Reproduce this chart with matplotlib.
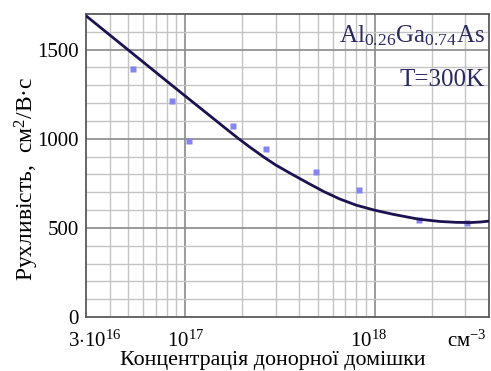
import numpy as np
import matplotlib
matplotlib.use("Agg")
import matplotlib.pyplot as plt
from matplotlib.ticker import FixedLocator, NullLocator

# Fitted curve
curve_n = [3e16, 5e16, 7e16, 1e17, 1.3e17, 1.6e17, 1.9e17, 2.2e17, 2.6e17, 3e17, 3.6e17,
           4.5e17, 5.4e17, 6.5e17, 8e17, 1e18, 1.25e18, 1.7e18, 2.2e18, 2.7e18,
           3.2e18, 3.6e18, 4e18]
curve_mu = [1690, 1499, 1373, 1240, 1143, 1066, 1003, 952, 897, 853, 805,
            748, 703, 663, 627, 599, 576, 549, 536, 531,
            530, 533, 538]

# Experimental points
pts_n = [5.3e16, 8.55e16, 1.05e17, 1.79e17, 2.66e17, 4.92e17, 8.25e17, 1.72e18, 3.05e18]
pts_mu = [1394, 1210, 989, 1073, 944, 816, 715, 543, 526]

yticks = [0, 500, 1000, 1500]
xmajor = [1e17, 1e18]
xminor = [4e16, 5e16, 6e16, 7e16, 8e16, 9e16,
          2e17, 3e17, 4e17, 5e17, 6e17, 7e17, 8e17, 9e17,
          2e18, 3e18]

serif = ["Liberation Serif", "DejaVu Serif"]
plt.rcParams['font.family'] = serif
plt.rcParams['mathtext.fontset'] = 'custom'
plt.rcParams['mathtext.rm'] = 'Liberation Serif'
plt.rcParams['mathtext.it'] = 'Liberation Serif'

fig = plt.figure(figsize=(4.91, 3.71), dpi=100)
ax = fig.add_axes([86/491, 1-317/371, (489-86)/491, (317-14)/371])
ax.set_xscale('log')
ax.set_xlim(3e16, 4e18)
ax.set_ylim(0, 1700)

light = '#c4c4c4'
dark = '#8a8a8a'
for v in xminor:
    ax.axvline(v, color=light, lw=1.0, zorder=0)
for v in xmajor:
    ax.axvline(v, color=dark, lw=1.2, zorder=0)
for v in range(100, 1700, 100):
    ax.axhline(v, color=dark if v % 500 == 0 else light, lw=1.2 if v % 500 == 0 else 1.0, zorder=0)

ax.plot(curve_n, curve_mu, color='#1c1250', lw=2.0, zorder=3, solid_joinstyle='round')
ax.plot(pts_n, pts_mu, 's', color='#8585f2', ms=4, mec='none', zorder=2)

ax.xaxis.set_major_locator(NullLocator())
ax.xaxis.set_minor_locator(NullLocator())
ax.yaxis.set_major_locator(FixedLocator(yticks))
ax.yaxis.set_minor_locator(NullLocator())
ax.tick_params(axis='y', length=0, pad=5, labelsize=15)
for s in ax.spines.values():
    s.set_color('#5a5a5a')
    s.set_linewidth(1.3)

# x tick labels
tfs = 15
ty = -75
ax.text(3.34e16, ty, r'$3{\cdot}10^{16}$', ha='center', va='top', fontsize=tfs)
ax.text(1e17, ty, r'$10^{17}$', ha='center', va='top', fontsize=tfs)
ax.text(0.93e18, ty, r'$10^{18}$', ha='center', va='top', fontsize=tfs)
ax.text(3.05e18, ty, r'$\mathrm{см}^{-3}$', ha='center', va='top', fontsize=tfs)

fig.text((120+425)/2/491, 1-361/371, 'Концентрація донорної домішки', ha='center', va='center',
         fontsize=15.8)
fig.text(27/491, 1-179/371, r'Рухливість,  см$^{2}$/В·с', rotation=90, ha='center', va='center',
         fontsize=17)

ax.text(0.99, 0.97, r'$\mathrm{Al}_{0.26}\mathrm{Ga}_{0.74}\mathrm{As}$', transform=ax.transAxes,
        ha='right', va='top', fontsize=18, color='#2a2a62')
ax.text(0.99, 0.82, 'T=300K', transform=ax.transAxes,
        ha='right', va='top', fontsize=18, color='#2a2a62')

fig.savefig('out.png', dpi=100)
